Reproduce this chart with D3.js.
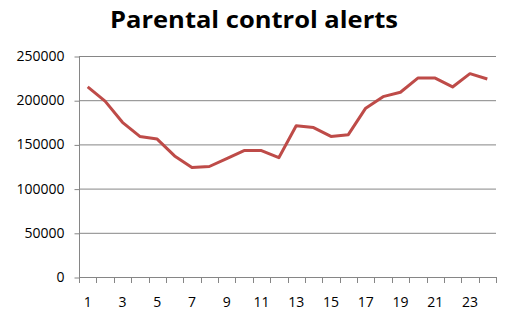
<!DOCTYPE html>
<html><head><meta charset="utf-8">
<script src="https://cdn.jsdelivr.net/npm/d3@7"></script>
<style>body{margin:0;background:#fff}svg{display:block}</style>
</head><body>
<svg id="c" width="505" height="321"></svg>
<script>
const title = "Parental control alerts";
const categories = d3.range(1, 25).map(String);
const values = [215000, 199000, 175000, 159000, 156000, 137000, 124000, 125000, 134000, 143000, 143000, 135000, 171000, 169000, 159000, 161000, 191000, 204000, 209000, 225000, 225000, 215000, 230000, 224000];
const yTicks = [0, 50000, 100000, 150000, 200000, 250000];
const xTickLabels = categories.filter((d, i) => i % 2 === 0);

const svg = d3.select("#c");
const font = "'Open Sans', sans-serif";
const L = 79, R = 496, T = 56, B = 277;
const x = d3.scaleBand().domain(categories).range([L, R]);
const y = d3.scaleLinear().domain([0, 250000]).range([B, T]);

const tt = svg.append("text").attr("x", 254).attr("y", 28).attr("text-anchor", "middle")
  .attr("font-family", font).attr("font-weight", "bold").attr("font-size", 23)
  .attr("fill", "#000").text(title);
const w = tt.node().getComputedTextLength();
if (w > 0) tt.attr("textLength", 288).attr("lengthAdjust", "spacingAndGlyphs");

// gridlines
svg.append("g").selectAll("line").data(yTicks.filter(d => d > 0)).join("line")
  .attr("x1", L).attr("x2", R).attr("y1", d => y(d) + 0.5).attr("y2", d => y(d) + 0.5)
  .attr("stroke", "#868686").attr("stroke-width", 1);

// y axis
const ya = svg.append("g").attr("transform", `translate(${L + 0.5},0)`)
  .call(d3.axisLeft(y).tickValues(yTicks).tickFormat(d3.format("d")).tickSize(5).tickPadding(10));
ya.select(".domain").attr("stroke", "#868686").attr("d", `M0,${T}V${B + 0.5}`);
ya.selectAll(".tick line").attr("stroke", "#868686").attr("transform", "translate(0,0.5)");
ya.selectAll("text").attr("font-family", font).attr("font-size", 14).attr("fill", "#000");

// x axis
const xa = svg.append("g").attr("transform", `translate(0,${B + 0.5})`)
  .call(d3.axisBottom(x).tickFormat(d => xTickLabels.includes(d) ? d : "").tickSize(0).tickPadding(20));
xa.select(".domain").attr("stroke", "#868686").attr("d", `M${L},0H${R}`);
xa.selectAll(".tick line").remove();
xa.selectAll("text").attr("font-family", font).attr("font-size", 14).attr("fill", "#000");
// boundary ticks between categories
const bounds = categories.map(c => x(c)).concat([R]);
svg.append("g").selectAll("line").data(bounds).join("line")
  .attr("x1", d => Math.round(d) + 0.5).attr("x2", d => Math.round(d) + 0.5)
  .attr("y1", B).attr("y2", B + 6).attr("stroke", "#868686");

// line
const line = d3.line().x((d, i) => x(categories[i]) + x.bandwidth() / 2).y(d => y(d));
svg.append("path").datum(values).attr("d", line).attr("fill", "none")
  .attr("stroke", "#BE4B48").attr("stroke-width", 3).attr("stroke-linejoin", "round");
</script>
</body></html>
